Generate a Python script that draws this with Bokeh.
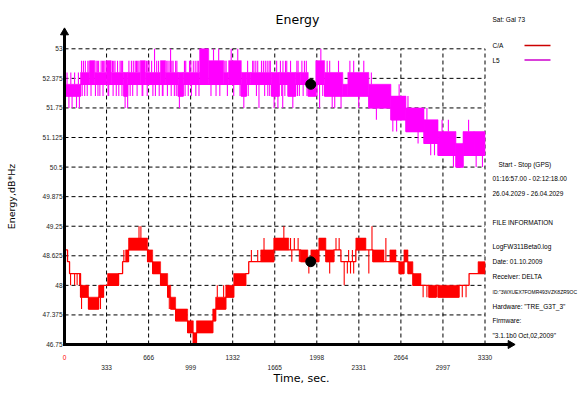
import math
from bokeh.plotting import figure
from bokeh.models import Range1d
from bokeh.core.properties import value
from bokeh.embed import file_html
from bokeh.resources import INLINE

# ---------------- data ----------------
title = "Energy"
y_label = "Energy,dB*Hz"
x_label = "Time, sec."

y_ticks = [46.75, 47.375, 48.0, 48.625, 49.25, 49.875, 50.5, 51.125, 51.75, 52.375, 53.0]
y_tick_labels = ["46.75", "47.375", "48", "48.625", "49.25", "49.875", "50.5", "51.125",
                 "51.75", "52.375", "53"]
x_ticks = [0, 333, 666, 999, 1332, 1665, 1998, 2331, 2664, 2997, 3330]
x_tick_labels = ["0", "333", "666", "999", "1332", "1665", "1998", "2331", "2664", "2997", "3330"]

# C/A: piecewise levels (time boundaries, low level, high level of fast toggling)
ca_bounds = [0, 24, 40, 127, 190, 270, 309, 341, 428, 460, 484, 507, 658, 698, 761, 817,
             841, 880, 975, 1020, 1045, 1174, 1197, 1277, 1340, 1435, 1459, 1554, 1657,
             1776, 1871, 1927, 1951, 2014, 2070, 2133, 2189, 2307, 2387, 2442, 2530, 2577,
             2625, 2650, 2688, 2720, 2759, 2823, 2886, 2942, 2958, 3124, 3204, 3275, 3330]
ca_lo = [48.75, 48.5, 48.25, 47.75, 47.5, 47.75, 48.0, 48.0, 48.25, 48.5, 48.5, 48.75,
         48.5, 48.25, 48.0, 47.75, 47.5, 47.25, 47.0, 46.75, 47.0, 47.25, 47.5, 47.75,
         48.0, 48.25, 48.5, 48.5, 48.75, 48.75, 48.5, 48.5, 48.5, 48.75, 48.5, 48.75,
         48.5, 48.75, 48.75, 48.5, 48.5, 48.5, 48.5, 48.25, 48.5, 48.25, 48.0, 48.0,
         47.75, 48.0, 47.75, 48.0, 48.25, 48.25]
ca_hi = [48.75, 48.5, 48.25, 48.0, 47.75, 48.0, 48.0, 48.25, 48.25, 48.5, 48.75, 49.0,
         48.75, 48.5, 48.25, 48.0, 47.75, 47.5, 47.25, 47.0, 47.25, 47.5, 47.75, 48.0,
         48.25, 48.25, 48.5, 48.75, 49.0, 48.75, 48.75, 48.5, 48.75, 49.0, 48.75, 48.75,
         48.5, 49.0, 48.75, 48.75, 48.5, 48.75, 48.5, 48.5, 48.75, 48.5, 48.25, 48.0,
         48.0, 48.0, 48.0, 48.0, 48.25, 48.5]
ca_spike_t = [48, 80, 100, 120, 135, 285, 470, 590, 605, 830, 1210, 1260, 1480, 1530, 1580,
              1737, 1790, 1800, 1820, 1850, 1860, 1935, 2100, 2150, 2175, 2215, 2240, 2250,
              2265, 2280, 2290, 2410, 2435, 2545, 2840, 2870, 2945, 3150, 3180]
ca_spike_v = [48.0, 48.0, 48.0, 48.0, 47.5, 47.5, 48.75, 49.25, 49.25, 47.5, 48.0, 48.0,
              48.75, 48.75, 49.0, 49.25, 49.0, 48.5, 49.0, 49.0, 48.5, 48.25, 48.25, 49.0,
              49.0, 48.0, 48.25, 48.75, 48.25, 48.75, 48.25, 48.25, 49.25, 49.0, 47.75,
              47.75, 47.75, 47.75, 47.75]

# L5
l5_bounds = [0, 127, 200, 240, 330, 370, 470, 500, 600, 640, 760, 800, 900, 940, 1070, 1142,
             1261, 1300, 1400, 1440, 1475, 1640, 1700, 1770, 1830, 1871, 1930, 1990, 2060,
             2204, 2244, 2410, 2585, 2704, 2847, 2958, 3100, 3156, 3243, 3330]
l5_lo = [52.0, 52.25, 52.25, 52.25, 52.25, 52.25, 52.0, 52.25, 52.25, 52.25, 52.25, 52.25,
         52.0, 52.25, 52.25, 52.25, 52.25, 52.25, 52.0, 52.25, 52.25, 52.0, 52.25, 52.0,
         52.25, 52.25, 52.0, 52.25, 52.0, 52.0, 52.0, 51.75, 51.5, 51.25, 51.0, 50.75,
         50.5, 50.75, 50.75]
l5_hi = [52.25, 52.5, 52.75, 52.5, 52.75, 52.5, 52.5, 52.5, 52.75, 52.5, 52.75, 52.5,
         52.5, 52.5, 53.0, 52.75, 52.5, 52.75, 52.5, 52.5, 52.5, 52.5, 52.5, 52.5,
         52.5, 52.5, 52.25, 52.75, 52.5, 52.25, 52.5, 52.25, 52.0, 51.75, 51.5, 51.25,
         51.0, 51.25, 51.25]
l5_spike_t = [20, 35, 50, 60, 80, 95, 110, 118, 150, 180, 185, 260, 280, 290, 310, 350, 390,
              420, 430, 450, 500, 520, 530, 560, 580, 620, 660, 690, 700, 713, 730, 780, 820,
              840, 860, 870, 880, 960, 980, 990, 1020, 1040, 1050, 1180, 1221, 1230, 1270,
              1320, 1372, 1500, 1530, 1540, 1560, 1590, 1610, 1620, 1680, 1720, 1728, 1730,
              1790, 1808, 1850, 1860, 1900, 2020, 2030, 2080, 2100, 2140, 2170, 2260, 2290,
              2330, 2370, 2430, 2470, 2600, 2630, 2650, 2720, 2800, 2870, 2900, 2930, 2990,
              3040, 3080, 3200, 3260, 3310]
l5_spike_v = [52.5, 51.75, 52.5, 51.75, 52.5, 51.75, 52.5, 51.75, 52.75, 52.0, 52.75, 52.75,
              52.0, 52.75, 52.75, 52.0, 52.75, 52.75, 52.0, 52.75, 51.75, 52.0, 52.75, 52.75,
              52.75, 52.0, 52.75, 52.75, 52.0, 53.0, 52.75, 52.0, 52.75, 53.0, 52.75, 52.0,
              52.75, 52.75, 52.0, 52.75, 52.75, 52.0, 52.75, 53.0, 53.0, 52.0, 52.75, 53.0,
              53.0, 52.75, 52.75, 51.75, 52.75, 52.75, 52.0, 52.75, 52.75, 52.0, 51.75,
              52.75, 52.75, 51.75, 52.75, 52.0, 52.75, 51.75, 53.0, 52.75, 52.75, 51.75,
              52.75, 52.75, 52.75, 51.75, 52.75, 52.5, 51.5, 51.25, 51.25, 52.25, 52.0,
              51.0, 51.75, 50.75, 50.75, 51.5, 51.5, 50.5, 51.5, 50.5, 50.5]
# further short L5 excursions seen in the dense band
l5_more_t = [135, 165, 195, 250, 270, 300, 320, 380, 400, 440, 460, 510, 545, 570, 590, 650,
             670, 745, 810, 835, 850, 890, 950, 1000, 1035, 1060, 1280, 1450, 1490, 1515,
             1575, 1605, 1630, 1710, 1750, 1760, 1840, 1880, 1915,
             140, 160, 245, 265, 305, 385, 410, 455, 540, 575, 655, 720, 750, 815, 845, 885,
             955, 1005, 1065, 1290, 1455, 1520, 1585, 1625, 1745, 1845, 1890, 1920,
             210, 345, 615, 775, 1160, 1200, 1340, 1390, 2000, 2045,
             480, 910, 1420, 1660, 1690, 2120, 2190]
l5_more_v = [52.75] * 39 + [52.0] * 28 + [52.0] * 10 + [51.75] * 7

cursor_t = [1950, 1950]
cursor_v = [52.25, 48.5]

legend_names = ["C/A", "L5"]
sat_text = "Sat: Gal  73"
info_lines = ["Start  -  Stop  (GPS)", "01:16:57.00 - 02:12:18.00", "26.04.2029 - 26.04.2029",
              "FILE INFORMATION", "LogFW311Beta0.log", "Date: 01.10.2009", "Receiver: DELTA",
              "ID:\"3WXUEX7FOMR493VZK8ZR9OC", "Hardware: \"TRE_G3T_3\"", "Firmware:",
              "\"3.1.1b0 Oct,02,2009\""]

CA_COLOR = "#ff0000"
L5_COLOR = "#ff00ff"

# ---------------- layout helpers (canvas pixels -> data) ----------------
W, H = 587, 393
X0, KX = 64.0, 420.5 / 3330.0     # px of t=0, px per second
Y53, KY = 48.3, 47.312            # px of 53 dB, px per dB
def X(px):
    return (px - X0) / KX
def Y(py):
    return 53 - (py - Y53) / KY

p = figure(width=W, height=H, output_backend="svg", toolbar_location=None,
           x_range=Range1d(X(0), X(W)), y_range=Range1d(Y(H), Y(0)),
           x_axis_type=None, y_axis_type=None,
           min_border_left=0, min_border_right=0, min_border_top=0, min_border_bottom=0)
p.outline_line_color = None
p.background_fill_color = "white"
p.border_fill_color = "white"

FONT = "Liberation Sans"
x_min, x_max = x_ticks[0], x_ticks[-1]
y_min, y_max = y_ticks[0], y_ticks[-1]

# dashed grid from the tick lists
hy = y_ticks[1:]
p.segment(x0=[x_min] * len(hy), y0=hy, x1=[x_max] * len(hy), y1=hy,
          line_color="black", line_width=1, line_dash="4 3")
vx = x_ticks[1:]
p.segment(x0=vx, y0=[y_min] * len(vx), x1=vx, y1=[y_max] * len(vx),
          line_color="black", line_width=1, line_dash="4 3")

def draw_series(bounds, lo, hi, sp_t, sp_v, color):
    xs, ys = [], []
    for i in range(len(lo)):
        xs += [bounds[i], bounds[i + 1]]
        ys += [lo[i], lo[i]]
    ql, qr, qb, qt = [], [], [], []
    for i in range(len(lo)):
        if hi[i] > lo[i]:
            ql.append(bounds[i]); qr.append(bounds[i + 1]); qb.append(lo[i]); qt.append(hi[i])
    p.quad(left=ql, right=qr, bottom=qb, top=qt, fill_color=color, line_color=color,
           line_width=0.6)
    p.line(xs, ys, line_color=color, line_width=1.3)
    sx, s0, s1 = [], [], []
    for t, v in zip(sp_t, sp_v):
        i = max(j for j in range(len(lo)) if bounds[j] <= t)
        base = hi[i] if v > hi[i] else lo[i]
        sx.append(t); s0.append(base); s1.append(v)
    p.segment(x0=sx, y0=s0, x1=sx, y1=s1, line_color=color, line_width=1.1)

draw_series(l5_bounds, l5_lo, l5_hi, l5_spike_t + l5_more_t, l5_spike_v + l5_more_v, L5_COLOR)
draw_series(ca_bounds, ca_lo, ca_hi, ca_spike_t, ca_spike_v, CA_COLOR)

# axis lines with arrow heads
y_arrow_top = Y(32)
x_arrow_end = X(510)
p.segment(x0=[x_min, X(62.5)], y0=[Y(345.5), y_min], x1=[x_min, x_arrow_end],
          y1=[y_arrow_top, y_min], line_color="black", line_width=3)
p.scatter(x=[x_min, x_arrow_end], y=[y_arrow_top, y_min], marker="triangle",
          angle=[0, -math.pi / 2], size=8, fill_color="black", line_color="black")

p.scatter(x=cursor_t, y=cursor_v, size=10, color="black")

# tick labels
p.text(x=[X(62)] * len(y_ticks), y=y_ticks, text=y_tick_labels, text_font=value(FONT),
       text_font_size="6.5px", text_align="right", text_baseline="middle", text_color="#222222")
up_idx = list(range(0, len(x_ticks), 2))
lo_idx = list(range(1, len(x_ticks), 2))
p.text(x=[x_ticks[i] for i in up_idx], y=[Y(356.5)] * len(up_idx),
       text=[x_tick_labels[i] for i in up_idx], text_font=value(FONT), text_font_size="6.5px",
       text_align="center", text_baseline="middle",
       text_color=["red"] + ["#222222"] * (len(up_idx) - 1))
p.text(x=[x_ticks[i] for i in lo_idx], y=[Y(367)] * len(lo_idx),
       text=[x_tick_labels[i] for i in lo_idx], text_font=value(FONT), text_font_size="6.5px",
       text_align="center", text_baseline="middle", text_color="#222222")

# axis titles and chart title
p.text(x=[X(11)], y=[Y(196)], text=[y_label], angle=math.pi / 2, text_font=value("DejaVu Sans"),
       text_font_size="9.5px", text_align="center", text_baseline="middle", text_color="black")
p.text(x=[X(301)], y=[Y(378)], text=[x_label], text_font=value("DejaVu Sans"),
       text_font_size="11px", text_align="center", text_baseline="middle", text_color="black")
p.text(x=[X(297)], y=[Y(19)], text=[title], text_font=value("DejaVu Sans"),
       text_font_size="12.5px", text_align="center", text_baseline="middle", text_color="black")

# legend and info block
p.text(x=[X(492)] * 3, y=[Y(18.5), Y(45), Y(60)], text=[sat_text] + legend_names,
       text_font=value(FONT), text_font_size="6.5px", text_align="left",
       text_baseline="middle", text_color="black")
p.segment(x0=[X(524)] * 2, y0=[Y(45), Y(59.5)], x1=[X(550)] * 2, y1=[Y(45), Y(59.5)],
          line_color=["#cc0000", "#cc00cc"], line_width=1.5)
info_y = [164, 178, 193, 222, 246, 261, 276, 291, 306, 320, 335]
info_x = [498] + [492] * 10
info_size = ["6.5px"] * 7 + ["5px"] + ["6.5px"] * 3
p.text(x=[X(v) for v in info_x], y=[Y(v) for v in info_y], text=info_lines,
       text_font=value(FONT), text_font_size=info_size, text_align="left",
       text_baseline="middle", text_color="black")

open("out.html", "w").write(file_html(p, INLINE))
